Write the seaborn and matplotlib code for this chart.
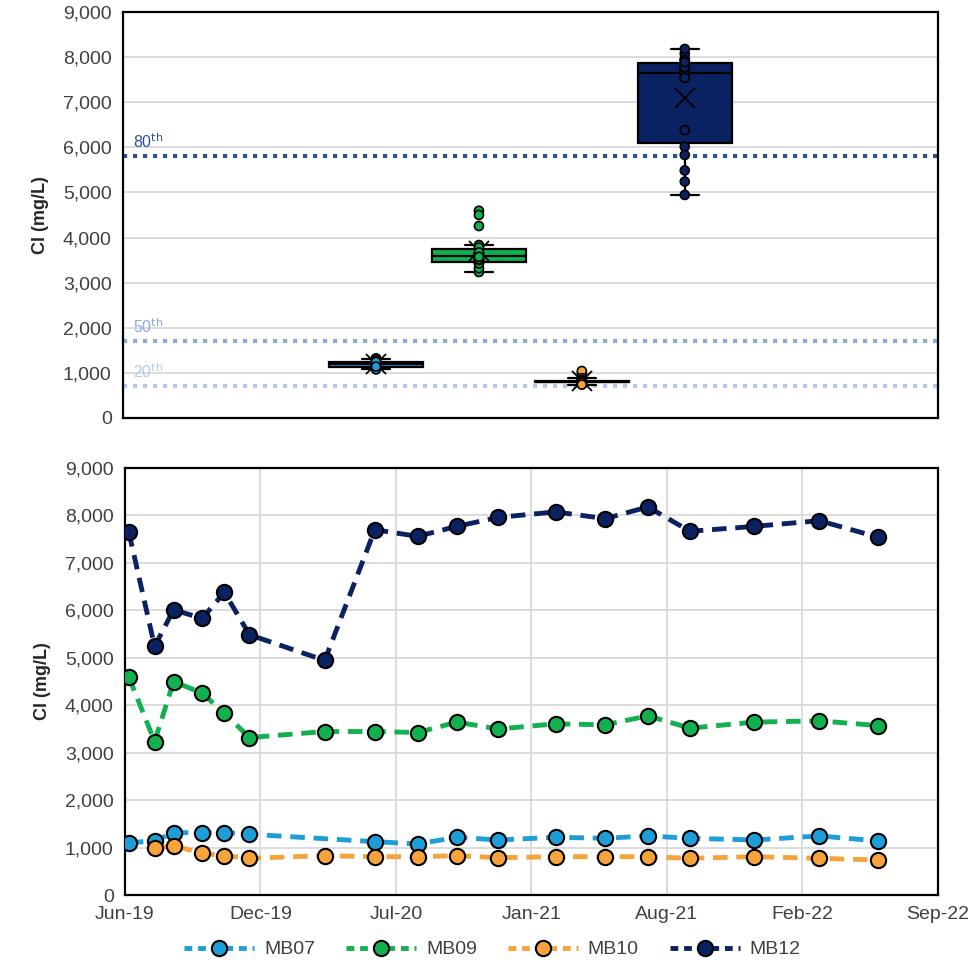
import pandas as pd
import seaborn as sns
import numpy as np
import matplotlib
matplotlib.use("Agg")
from matplotlib import pyplot as plt
import matplotlib.dates as mdates
from matplotlib.ticker import FuncFormatter
from matplotlib.lines import Line2D

# data --------------------------------------------------------------------------------------

dates = ["2019-06-10", "2019-07-18", "2019-08-15", "2019-09-26", "2019-10-29", "2019-12-05",
         "2020-03-25", "2020-06-07", "2020-08-09", "2020-10-06", "2020-12-06", "2021-03-01",
         "2021-05-13", "2021-07-15", "2021-09-15", "2021-12-19", "2022-03-25", "2022-06-20"]

mb07 = [1104, 1139, 1315, 1315, 1315, 1280, np.nan, 1125, 1076, 1217, 1160, 1217,
        1196, 1245, 1196, 1160, 1245, 1139]
mb09 = [4593, 3235, 4500, 4255, 3833, 3319, 3446, 3446, 3425, 3644, 3500, 3608,
        3587, 3777, 3517, 3644, 3671, 3572]
mb10 = [np.nan, 985, 1041, 880, 829, 774, 829, 808, 808, 829, 787, 808,
        808, 808, 774, 808, 774, 738]
mb12 = [7645, 5240, 6013, 5830, 6380, 5486, 4944, 7700, 7560, 7770, 7960, 8075,
        7933, 8180, 7666, 7770, 7890, 7540]

wells = ["MB07", "MB09", "MB10", "MB12"]
colors = ["#1E9ED8", "#12B04F", "#F7A33B", "#0A2262"]

pct_labels = ["80", "50", "20"]
pct_values = [5800, 1700, 700]
pct_colors = ["#2F4F9A", "#8FA8DE", "#B7C8EA"]

# ------------------------------------------------------------------------------------------

df = pd.DataFrame({"date": pd.to_datetime(dates), "MB07": mb07, "MB09": mb09,
                   "MB10": mb10, "MB12": mb12})
long = df.melt(id_vars="date", var_name="well", value_name="cl").dropna()

sns.set_style("white")
plt.rcParams["font.family"] = ["Liberation Sans", "DejaVu Sans"]

fig = plt.figure(figsize=(9.75, 9.72), dpi=100)
ax1 = fig.add_axes([0.126, 0.570, 0.836, 0.4177])
ax2 = fig.add_axes([0.128, 0.0792, 0.834, 0.4393])

fmt = FuncFormatter(lambda v, p: f"{int(v):,}")
txt_col = "#404040"

# Top: box and whisker ---------------------------------------------------------------------

for lab, val, col in zip(pct_labels, pct_values, pct_colors):
    ax1.axhline(val, color=col, lw=3, ls=(0, (1, 1.4)), zorder=1)
    ax1.text(-2.36, val + 110, lab + r"$^{\rm th}$", color=col, fontsize=11.5,
             ha="left", va="bottom")

sns.boxplot(data=long, x="well", y="cl", hue="well", order=wells, hue_order=wells,
            palette=colors, saturation=1, width=0.91, linecolor="black", linewidth=1.6,
            showfliers=False, showmeans=True, capwidths=0.27,
            meanprops=dict(marker="x", markeredgecolor="black", markersize=14,
                           markeredgewidth=1.3),
            legend=False, ax=ax1, zorder=2)
sns.stripplot(data=long, x="well", y="cl", hue="well", order=wells, hue_order=wells,
              palette=colors, jitter=False, size=6.5, edgecolor="black", linewidth=1.2,
              legend=False, ax=ax1, zorder=3)

ax1.set_xlim(-2.46, 5.46)
ax1.set_ylim(0, 9000)
ax1.set_yticks(range(0, 9001, 1000))
ax1.yaxis.set_major_formatter(fmt)
ax1.set_xticks([])
ax1.set_xlabel("")
ax1.set_ylabel("Cl (mg/L)", fontsize=13, fontweight="bold", color="#262626", labelpad=10)
ax1.grid(axis="y", color="#D9D9D9", lw=1.3)
ax1.set_axisbelow(True)

# Bottom: time series ------------------------------------------------------------------------

handles = []
for w, col in zip(wells, colors):
    sub = long[long["well"] == w]
    sns.lineplot(data=sub, x="date", y="cl", color=col, lw=3.5, ls=(0, (3, 1.8)),
                 marker="o", markersize=11, markeredgecolor="black", markeredgewidth=1.5,
                 ax=ax2, zorder=3)
    handles.append(Line2D([], [], color=col, lw=3.5, ls=(0, (1.6, 1.2)), marker="o",
                          markersize=11, markerfacecolor=col, markeredgecolor="black",
                          markeredgewidth=1.5, label=w))

start = pd.Timestamp("2019-06-04")
ticks = [start + pd.Timedelta(days=200 * i) for i in range(7)]
ax2.set_xlim(ticks[0], ticks[-1])
ax2.set_xticks(ticks)
ax2.xaxis.set_major_formatter(mdates.DateFormatter("%b-%y"))
ax2.set_ylim(0, 9000)
ax2.set_yticks(range(0, 9001, 1000))
ax2.yaxis.set_major_formatter(fmt)
ax2.set_xlabel("")
ax2.set_ylabel("Cl (mg/L)", fontsize=13, fontweight="bold", color="#262626", labelpad=10)
ax2.grid(True, color="#D9D9D9", lw=1.3)
ax2.set_axisbelow(True)

for ax in (ax1, ax2):
    for s in ax.spines.values():
        s.set_color("black")
        s.set_linewidth(1.6)
    ax.tick_params(length=0, labelsize=14, colors=txt_col, pad=8)

fig.legend(handles=handles, loc="center", bbox_to_anchor=(0.505, 0.023), ncol=4,
           frameon=False, fontsize=14, handlelength=3.6, columnspacing=1.6,
           handletextpad=0.5, labelcolor=txt_col)

fig.savefig("out.png", dpi=100)
